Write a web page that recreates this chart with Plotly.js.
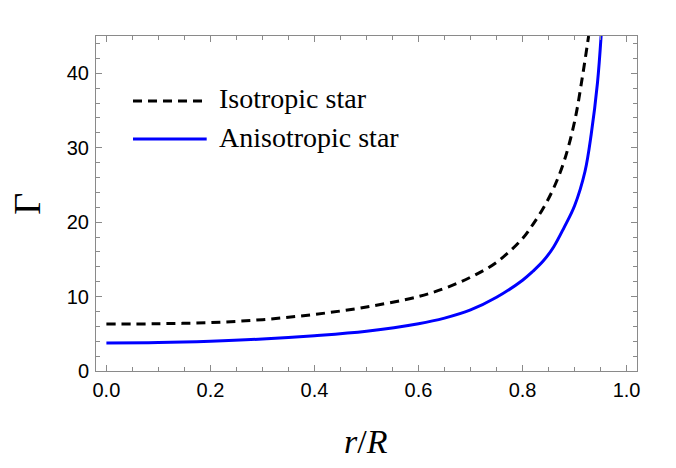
<!DOCTYPE html>
<html>
<head>
<meta charset="utf-8">
<script src="https://cdn.plot.ly/plotly-3.0.1.min.js"></script>
<style>html,body{margin:0;padding:0;background:#fff;}#chart{width:676px;height:468px;}</style>
</head>
<body>
<div id="chart"></div>
<script>
// r/R values and Gamma for the isotropic star (dashed black)
const isoR = [0, 0.1, 0.2, 0.3, 0.4, 0.5, 0.6, 0.65, 0.7, 0.75, 0.8, 0.82, 0.84, 0.86, 0.88, 0.9, 0.915, 0.927];
const isoG = [6.3, 6.35, 6.5, 6.9, 7.6, 8.6, 10.0, 11.1, 12.6, 14.6, 17.8, 19.7, 21.9, 24.6, 28.2, 33.5, 39.5, 45.0];
// r/R values and Gamma for the anisotropic star (solid blue)
const anisoR = [0, 0.1, 0.2, 0.3, 0.4, 0.5, 0.6, 0.65, 0.7, 0.75, 0.8, 0.82, 0.84, 0.86, 0.88, 0.9, 0.92, 0.932, 0.944, 0.951];
const anisoG = [3.77, 3.82, 4.0, 4.3, 4.75, 5.35, 6.35, 7.1, 8.2, 9.9, 12.2, 13.4, 14.8, 16.7, 19.3, 22.2, 26.8, 31.8, 38.7, 45.0];
const seriesNames = ["Isotropic star", "Anisotropic star"];
const xTitle = "<i>r</i>/<i>R</i>";
const yTitle = "Γ";

const traces = [
  {x: isoR, y: isoG, mode: "lines", name: seriesNames[0], showlegend: false,
   line: {color: "#000000", width: 3, dash: "9px,6px", shape: "spline", smoothing: 1}},
  {x: anisoR, y: anisoG, mode: "lines", name: seriesNames[1], showlegend: false,
   line: {color: "#0000ff", width: 3, shape: "spline", smoothing: 1}}
];

const frameColor = "#8a8a8a";
const tickFont = {family: "Liberation Sans, Arial, sans-serif", size: 20, color: "#000"};
const serif = "Liberation Serif, Times New Roman, serif";

const layout = {
  width: 676, height: 468,
  margin: {l: 96, r: 39, t: 36, b: 97},
  paper_bgcolor: "#fff", plot_bgcolor: "#fff",
  showlegend: false,
  xaxis: {
    range: [-0.02, 1.02], dtick: 0.2, tick0: 0, tickformat: ".1f",
    ticks: "inside", ticklen: 6, tickcolor: frameColor, tickwidth: 1,
    minor: {dtick: 0.05, tick0: 0, ticks: "inside", ticklen: 4, tickcolor: frameColor},
    showline: true, linecolor: frameColor, linewidth: 1, mirror: "allticks",
    showgrid: false, zeroline: false, tickfont: tickFont, ticklabelstandoff: 1
  },
  yaxis: {
    range: [0, 45], dtick: 10, tick0: 0,
    ticks: "inside", ticklen: 6, tickcolor: frameColor, tickwidth: 1,
    minor: {dtick: 2, tick0: 0, ticks: "inside", ticklen: 4, tickcolor: frameColor},
    showline: true, linecolor: frameColor, linewidth: 1, mirror: "allticks",
    showgrid: false, zeroline: false, tickfont: tickFont, ticklabelstandoff: 2
  },
  shapes: [
    {type: "line", xref: "paper", yref: "paper", x0: 0.0684, x1: 0.2046, y0: 0.806, y1: 0.806,
     line: {color: "#000", width: 3, dash: "9px,6px"}},
    {type: "line", xref: "paper", yref: "paper", x0: 0.0684, x1: 0.2046, y0: 0.6925, y1: 0.6925,
     line: {color: "#0000ff", width: 3}}
  ],
  annotations: [
    {text: seriesNames[0], xref: "paper", yref: "paper", x: 0.2231, y: 0.812, xanchor: "left", yanchor: "middle",
     showarrow: false, font: {family: serif, size: 28, color: "#000"}},
    {text: seriesNames[1], xref: "paper", yref: "paper", x: 0.2231, y: 0.698, xanchor: "left", yanchor: "middle",
     showarrow: false, font: {family: serif, size: 28, color: "#000"}},
    {text: yTitle, xref: "paper", yref: "paper", x: -0.129, y: 0.50, xanchor: "center", yanchor: "middle",
     textangle: -90, showarrow: false, font: {family: serif, size: 38, color: "#000"}},
    {text: xTitle, xref: "paper", yref: "paper", x: 0.499, y: -0.21, xanchor: "center", yanchor: "middle",
     showarrow: false, font: {family: serif, size: 34, color: "#000"}}
  ]
};

Plotly.newPlot("chart", traces, layout, {displayModeBar: false, staticPlot: true});
</script>
</body>
</html>
